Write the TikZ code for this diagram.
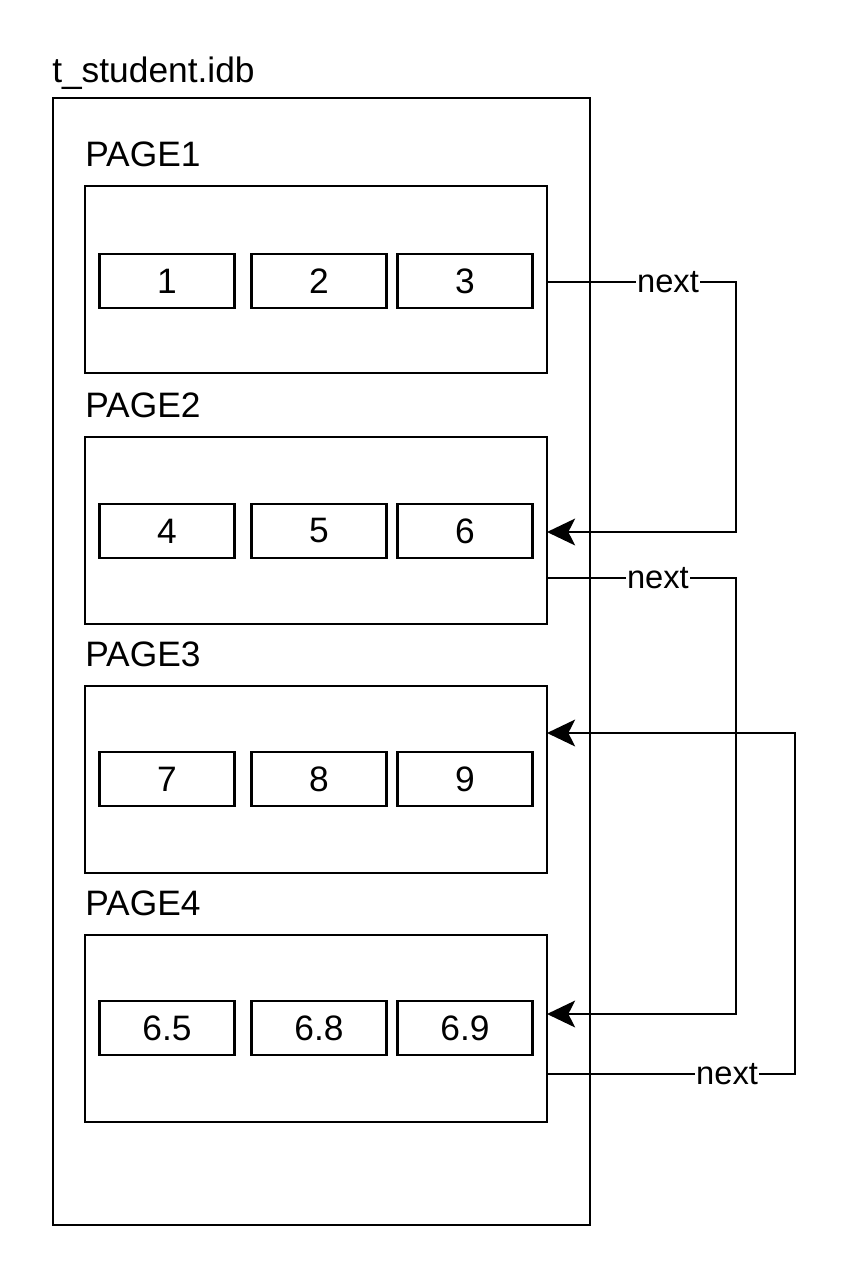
\documentclass[tikz,border=0pt]{standalone}
\usepackage{fontspec}
\setmainfont{Liberation Sans}
\usetikzlibrary{calc,arrows.meta}
\def\u{0.75pt}
\begin{document}
\begin{tikzpicture}[x=0.75pt,y=-0.75pt,
  box/.style={draw=black,line width=2pt,inner sep=0pt,outer sep=0pt,fill=white},
  pagebox/.style={box,minimum width=462*\u,minimum height=187*\u},
  cell/.style={box,minimum width=135*\u,minimum height=54*\u,font=\fontsize{26.5}{30}\selectfont},
  lbl/.style={font=\fontsize{26.5}{30}\selectfont,inner sep=0pt,anchor=base west},
  link/.style={draw=black,line width=2pt,-{Stealth[length=21pt,width=20pt,inset=5pt]}},
  nxt/.style={fill=white,inner sep=1pt,font=\fontsize{24.5}{28}\selectfont}]
\useasboundingbox (0,0) rectangle (840,1270);
\node[box,fill=none,minimum width=537*\u,minimum height=1127*\u,anchor=north west] (outer) at (53,98) {};
\node[lbl] (title) at (52,83) {t\_student.idb};
% pages
\foreach \i/\t in {1/186,2/437,3/686,4/935}{
  \node[lbl] (lab\i) at (85,\t-20) {PAGE\i};
  \node[pagebox,anchor=north west] (page\i) at (85,\t) {};
}
% cells
\node[cell] (c1) at (167,281) {1};
\node[cell] (c2) at (319,281) {2};
\node[cell] (c3) at (465,281) {3};
\node[cell] (c4) at (167,531) {4};
\node[cell] (c5) at (319,531) {5};
\node[cell] (c6) at (465,531) {6};
\node[cell] (c7) at (167,779) {7};
\node[cell] (c8) at (319,779) {8};
\node[cell] (c9) at (465,779) {9};
\node[cell] (c10) at (167,1028) {6.5};
\node[cell] (c11) at (319,1028) {6.8};
\node[cell] (c12) at (465,1028) {6.9};
% links
\coordinate (k1) at (736,282);
\coordinate (k2) at (736,578);
\coordinate (k3) at (795,1074);
\draw[link] ($(page1.east)+(0,2.5)$) -- node[nxt,pos=0.64]{next} (k1) |- ($(page2.east)+(0,1.5)$);
\draw[link] ($(page2.east)+(0,47.5)$) -- node[nxt,pos=0.587]{next} (k2) |- ($(page4.east)+(0,-14.5)$);
\draw[link] ($(page4.east)+(0,45.5)$) -- node[nxt,pos=0.726]{next} (k3) |- ($(page3.east)+(0,-46.5)$);
\end{tikzpicture}
\end{document}
